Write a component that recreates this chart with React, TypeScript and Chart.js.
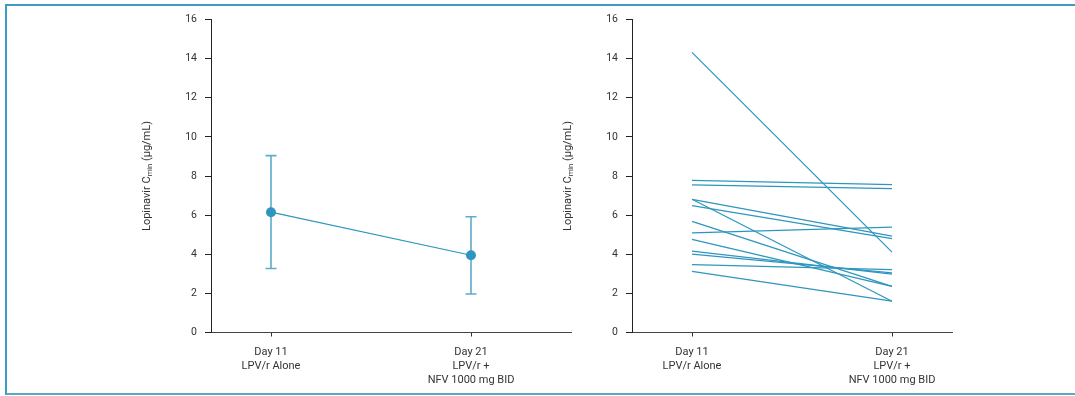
import React, { useEffect, useRef } from 'react';
import { Chart, registerables } from 'chart.js';

Chart.register(...registerables);

// ---- Data ----
const xCategoryLabels: string[][] = [
  ['Day 11', 'LPV/r Alone'],
  ['Day 21', 'LPV/r +', 'NFV 1000 mg BID'],
];
const xPositions = [0, 1];

// Left panel: mean with error bars
const meanCmin = [6.15, 3.95];
const meanLow = [3.27, 1.97];
const meanHigh = [9.04, 5.92];

// Right panel: individual subjects
const day11Cmin = [14.32, 7.78, 7.54, 6.81, 6.81, 6.49, 5.68, 5.09, 4.76, 4.16, 4.01, 3.47, 3.12];
const day21Cmin = [4.11, 7.56, 7.36, 4.93, 1.6, 4.8, 2.36, 5.39, 2.36, 2.98, 3.05, 3.21, 1.6];

const yMin = 0;
const yMax = 16;
const yStep = 2;

const FONT = "Roboto, 'Liberation Sans', sans-serif";
const TEAL = '#2E96BE';
const ERR = '#5EACCB';
const TEXT = '#333333';

const W = 1075;
const H = 396;

const titlePlugin = {
  id: 'cminTitle',
  afterDraw(chart: any) {
    const { ctx, chartArea } = chart;
    const cx = chartArea.left - 64;
    const cy = (chartArea.top + chartArea.bottom) / 2;
    const big = `11px ${FONT}`;
    const small = `7.5px ${FONT}`;
    const parts = [
      { t: 'Lopinavir C', f: big, dy: 0 },
      { t: 'min', f: small, dy: 3 },
      { t: ' (\u00b5g/mL)', f: big, dy: 0 },
    ];
    ctx.save();
    let total = 0;
    const widths = parts.map((p) => {
      ctx.font = p.f;
      const w = ctx.measureText(p.t).width;
      total += w;
      return w;
    });
    ctx.translate(cx, cy);
    ctx.rotate(-Math.PI / 2);
    ctx.fillStyle = TEXT;
    ctx.textBaseline = 'middle';
    ctx.textAlign = 'left';
    let x = -total / 2;
    parts.forEach((p, i) => {
      ctx.font = p.f;
      ctx.fillText(p.t, x, p.dy);
      x += widths[i];
    });
    ctx.restore();
  },
};

const errorBarPlugin = {
  id: 'errorBars',
  beforeDatasetsDraw(chart: any) {
    const { ctx } = chart;
    const xs = chart.scales.x;
    const ys = chart.scales.y;
    ctx.save();
    ctx.strokeStyle = ERR;
    ctx.lineWidth = 1.6;
    xPositions.forEach((xv, i) => {
      const px = xs.getPixelForValue(xv);
      const pl = ys.getPixelForValue(meanLow[i]);
      const ph = ys.getPixelForValue(meanHigh[i]);
      ctx.beginPath();
      ctx.moveTo(px, pl);
      ctx.lineTo(px, ph);
      ctx.moveTo(px - 5.5, pl);
      ctx.lineTo(px + 5.5, pl);
      ctx.moveTo(px - 5.5, ph);
      ctx.lineTo(px + 5.5, ph);
      ctx.stroke();
    });
    ctx.restore();
  },
};

function buildOptions(axisLeft: number, axisRight: number, xMax: number): any {
  const yAxisWidth = 80;
  const xAxisHeight = 60;
  const top = 19.5;
  const bottom = 332.5;
  return {
    responsive: false,
    animation: false,
    devicePixelRatio: 1,
    layout: {
      padding: {
        left: axisLeft - yAxisWidth,
        right: W - axisRight,
        top: top,
        bottom: H - bottom - xAxisHeight,
      },
    },
    plugins: {
      legend: { display: false },
      tooltip: { enabled: false },
      title: { display: false },
    },
    scales: {
      x: {
        type: 'linear',
        min: -0.3,
        max: xMax,
        afterFit: (s: any) => {
          s.height = xAxisHeight;
        },
        afterBuildTicks: (s: any) => {
          s.ticks = xPositions.map((v) => ({ value: v }));
        },
        ticks: {
          autoSkip: false,
          maxRotation: 0,
          minRotation: 0,
          padding: 9,
          color: TEXT,
          font: { family: FONT, size: 11, lineHeight: 1.27 },
          callback: (v: number) => {
            const i = xPositions.indexOf(v);
            return i >= 0 ? xCategoryLabels[i] : '';
          },
        },
        grid: { drawOnChartArea: false, drawTicks: true, tickLength: 4, color: '#333' },
        border: { display: true, color: '#444', width: 1 },
      },
      y: {
        min: yMin,
        max: yMax,
        afterFit: (s: any) => {
          s.width = yAxisWidth;
        },
        ticks: {
          stepSize: yStep,
          padding: 8,
          color: TEXT,
          font: { family: FONT, size: 10.5 },
        },
        grid: { drawOnChartArea: false, drawTicks: true, tickLength: 6, color: '#222' },
        border: { display: true, color: '#222', width: 1 },
      },
    },
  };
}

export default function App() {
  const leftRef = useRef<HTMLCanvasElement | null>(null);
  const rightRef = useRef<HTMLCanvasElement | null>(null);

  useEffect(() => {
    const left = new Chart(leftRef.current as HTMLCanvasElement, {
      type: 'line',
      data: {
        datasets: [
          {
            data: xPositions.map((x, i) => ({ x, y: meanCmin[i] })),
            borderColor: TEAL,
            backgroundColor: TEAL,
            borderWidth: 1.2,
            pointRadius: 5,
            pointBorderWidth: 0,
            pointBackgroundColor: TEAL,
          },
        ],
      },
      options: buildOptions(211, 571, 1.5),
      plugins: [errorBarPlugin, titlePlugin],
    } as any);

    const right = new Chart(rightRef.current as HTMLCanvasElement, {
      type: 'line',
      data: {
        datasets: day11Cmin.map((v, i) => ({
          data: [
            { x: xPositions[0], y: v },
            { x: xPositions[1], y: day21Cmin[i] },
          ],
          borderColor: TEAL,
          borderWidth: 1.25,
          pointRadius: 0,
        })),
      },
      options: buildOptions(632, 952, 1.3),
      plugins: [titlePlugin],
    } as any);

    return () => {
      left.destroy();
      right.destroy();
    };
  }, []);

  return (
    <div style={{ position: 'absolute', left: 0, top: 0, width: W, height: H, overflow: 'hidden', background: '#fff' }}>
      <div
        style={{
          position: 'absolute',
          left: 5,
          top: 4,
          width: 1070,
          height: 391,
          boxSizing: 'border-box',
          borderTop: '2px solid #3C9CC4',
          borderLeft: '2px solid #3C9CC4',
          borderBottom: '2px solid #5AA9C8',
        }}
      />
      <canvas ref={leftRef} width={W} height={H} style={{ position: 'absolute', left: 0, top: 0 }} />
      <canvas ref={rightRef} width={W} height={H} style={{ position: 'absolute', left: 0, top: 0 }} />
    </div>
  );
}
